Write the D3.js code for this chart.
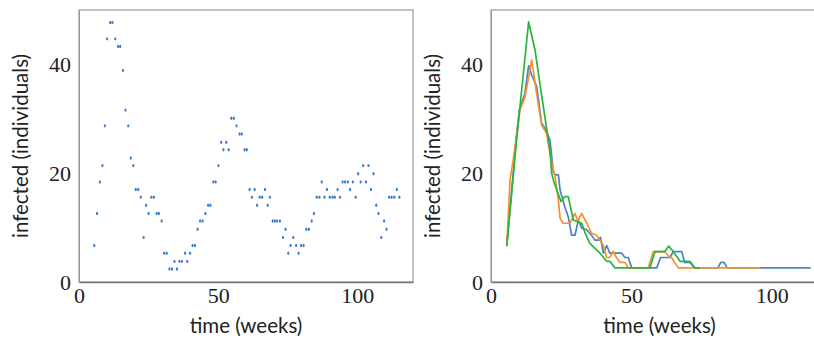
<!DOCTYPE html>
<html>
<head>
<meta charset="utf-8">
<script src="https://cdn.jsdelivr.net/npm/d3@7"></script>
<style>
  body { margin: 0; background: #fff; }
  .tick text { font-family: "Liberation Serif", "DejaVu Serif", serif; font-size: 22px; fill: #222; }
  .label { font-family: Lato, "Noto Sans", sans-serif; font-size: 20.5px; fill: #222; }
</style>
</head>
<body>
<div id="chart"></div>
<script>
// observed weekly infections (left panel)
const obsWeeks = [5.5, 6.5, 7.5, 8.4, 9.3, 10.1, 11.2, 12.0, 13.0, 14.0, 14.8, 15.8, 16.7, 17.7, 18.6, 19.5, 20.4, 21.3, 22.2, 23.2,
  24.1, 25.0, 26.0, 26.9, 27.9, 28.7, 29.7, 30.6, 31.5, 32.5, 33.4, 34.3, 35.2, 36.1, 37.0, 38.1, 38.9, 39.9, 40.8, 41.7,
  42.6, 43.5, 44.4, 45.4, 46.4, 47.2, 48.3, 49.1, 50.1, 51.1, 51.9, 52.9, 53.8, 54.7, 55.6, 56.6, 57.7, 58.5, 59.5, 60.3,
  61.3, 62.1, 63.1, 64.0, 64.9, 65.8, 66.8, 67.8, 68.6, 69.6, 70.4, 71.2, 72.2, 73.3, 74.2, 75.2, 76.0, 77.0, 78.0, 78.9,
  79.8, 80.7, 81.7, 82.6, 83.6, 84.4, 85.4, 86.4, 87.2, 88.2, 89.1, 90.1, 91.1, 91.9, 92.9, 93.8, 94.7, 95.6, 96.6, 97.4,
  98.4, 99.4, 100.3, 101.2, 102.1, 103.1, 104.0, 104.9, 105.8, 106.8, 107.6, 108.6, 109.6, 110.5, 111.4, 112.3, 113.3, 114.2, 115.1];
const obsInfected = [6.7, 12.6, 18.4, 21.4, 28.7, 44.7, 47.7, 47.7, 44.7, 43.3, 43.3, 38.9, 31.6, 28.7, 22.8, 21.4, 17.0, 17.0, 15.6, 8.2,
  14.1, 12.6, 15.6, 15.6, 12.6, 12.6, 11.2, 5.3, 5.3, 2.4, 2.4, 3.8, 2.4, 3.8, 3.8, 5.3, 3.8, 5.3, 6.7, 6.7,
  9.7, 11.2, 11.2, 12.6, 14.1, 14.1, 18.4, 18.4, 21.4, 25.7, 24.3, 25.7, 24.3, 30.1, 30.1, 28.7, 27.2, 27.2, 24.3, 24.3,
  17.0, 15.6, 17.0, 14.1, 15.6, 15.6, 17.0, 14.1, 15.6, 11.2, 11.2, 11.2, 11.2, 8.2, 9.7, 5.3, 6.7, 8.2, 6.7, 5.3,
  6.7, 6.7, 9.7, 9.7, 11.2, 12.6, 15.6, 15.6, 18.4, 15.6, 17.0, 15.6, 15.6, 15.6, 17.0, 15.6, 18.4, 18.4, 18.4, 17.0,
  18.4, 15.6, 19.9, 18.4, 21.4, 18.4, 21.4, 17.0, 19.9, 14.1, 12.6, 8.2, 11.2, 9.7, 15.6, 15.6, 15.6, 17.0, 15.6];

// simulated trajectories (right panel)
const simBlueWeeks = [5.6, 7.4, 8.9, 10.1, 12.1, 13.4, 14.5, 16.3, 18.0, 19.2, 21.0, 22.2, 22.8, 24.0, 24.6, 26.3, 27.5, 28.7, 29.9, 31.1,
  32.3, 34.1, 35.8, 37.0, 38.2, 39.0, 40.0, 41.2, 42.3, 46.5, 47.7, 48.9, 50.1, 59.0, 60.4, 63.7, 64.9, 67.9, 69.0, 70.8,
  72.6, 80.8, 81.8, 83.0, 84.1, 113.8];
const simBlueInfected = [6.6, 16.9, 26.1, 31.6, 34.7, 39.8, 38.0, 35.9, 29.2, 28.3, 26.1, 20.3, 19.7, 19.7, 16.9, 13.8, 12.0, 8.6, 8.6, 11.4,
  9.9, 9.6, 8.6, 7.7, 7.7, 8.2, 5.3, 6.7, 5.3, 5.3, 4.5, 4.5, 2.6, 2.6, 4.5, 4.5, 5.6, 5.6, 3.6, 3.6,
  2.6, 2.6, 3.6, 3.6, 2.6, 2.6];
const simOrangeWeeks = [5.6, 6.8, 7.9, 8.9, 10.3, 12.1, 14.5, 16.8, 18.0, 19.8, 21.0, 22.8, 24.0, 24.6, 25.7, 28.1, 29.9, 30.9, 32.3, 34.1,
  35.8, 37.6, 40.0, 41.2, 42.3, 43.5, 44.7, 45.9, 47.7, 48.9, 56.0, 57.8, 61.9, 63.7, 64.3, 66.7, 96.0];
const simOrangeInfected = [6.6, 18.8, 22.4, 26.0, 31.6, 34.0, 40.8, 32.8, 28.9, 27.3, 23.5, 19.4, 15.0, 11.7, 10.8, 10.8, 12.6, 11.2, 12.6, 10.8,
  9.0, 8.6, 6.7, 4.5, 4.5, 5.6, 4.5, 3.6, 3.6, 2.6, 2.6, 5.6, 5.6, 4.5, 4.5, 2.6, 2.6];
const simGreenWeeks = [5.6, 9.1, 13.4, 15.7, 17.4, 19.2, 21.0, 21.6, 22.4, 24.9, 26.3, 27.5, 29.3, 32.3, 33.5, 35.2, 38.8, 41.2, 42.3, 44.1,
  56.6, 58.4, 61.9, 63.3, 64.9, 67.3, 70.8, 72.6, 74.4];
const simGreenInfected = [6.6, 26.1, 47.8, 42.6, 36.5, 30.3, 24.3, 20.0, 18.4, 14.8, 15.7, 15.7, 11.4, 10.8, 9.0, 7.1, 5.3, 3.8, 3.8, 2.6,
  2.6, 5.6, 5.6, 6.6, 5.6, 3.8, 3.8, 2.6, 2.6];

const xTicks = [0, 50, 100];
const yTicks = [0, 20, 40];

const W = 814, H = 340;
const plotTop = 10, plotBottom = 282;

const svg = d3.select('#chart')
  .append('svg')
  .attr('width', W)
  .attr('height', H);

const y = d3.scaleLinear().domain([0, 50]).range([plotBottom, plotTop]);

function drawPanel(left, right) {
  const x = d3.scaleLinear().domain([0, 120]).range([left, right]);
  const g = svg.append('g');

  // frame
  g.append('rect')
    .attr('x', left)
    .attr('y', plotTop)
    .attr('width', right - left)
    .attr('height', plotBottom - plotTop)
    .attr('fill', 'none')
    .attr('stroke', '#9a9a9a')
    .attr('stroke-width', 1.2);

  g.append('g')
    .attr('transform', `translate(0, ${plotBottom})`)
    .call(d3.axisBottom(x).tickValues(xTicks).tickSize(0).tickPadding(5))
    .call((a) => a.select('.domain').attr('stroke', '#777').attr('stroke-width', 1.5));

  g.append('g')
    .attr('transform', `translate(${left}, 0)`)
    .call(d3.axisLeft(y).tickValues(yTicks).tickSize(0).tickPadding(8))
    .call((a) => a.select('.domain').attr('stroke', '#999'));

  g.append('text')
    .attr('class', 'label')
    .attr('x', (left + right) / 2)
    .attr('y', 333)
    .attr('text-anchor', 'middle')
    .text('time (weeks)');

  g.append('text')
    .attr('class', 'label')
    .attr('transform', `translate(${left - 51}, ${(plotTop + plotBottom) / 2}) rotate(-90)`)
    .attr('text-anchor', 'middle')
    .text('infected (individuals)');

  return { g, x };
}

// left: observations
const L = drawPanel(79, 413);
L.g.append('g')
  .selectAll('ellipse')
  .data(obsWeeks)
  .join('ellipse')
  .attr('cx', (d) => L.x(d))
  .attr('cy', (d, i) => y(obsInfected[i]))
  .attr('rx', 1.1)
  .attr('ry', 1.7)
  .attr('fill', '#3d7cc9');

// right: simulations
const R = drawPanel(491, 828);
const line = d3.line()
  .x((d) => R.x(d[0]))
  .y((d) => y(d[1]));

const sims = [
  { t: simBlueWeeks, v: simBlueInfected, color: '#4a82c6' },
  { t: simOrangeWeeks, v: simOrangeInfected, color: '#f5912e' },
  { t: simGreenWeeks, v: simGreenInfected, color: '#27b63c' },
];

sims.forEach((s) => {
  R.g.append('path')
    .datum(s.t.map((t, i) => [t, s.v[i]]))
    .attr('fill', 'none')
    .attr('stroke', s.color)
    .attr('stroke-width', 1.7)
    .attr('stroke-linejoin', 'round')
    .attr('d', line);
});
</script>
</body>
</html>
